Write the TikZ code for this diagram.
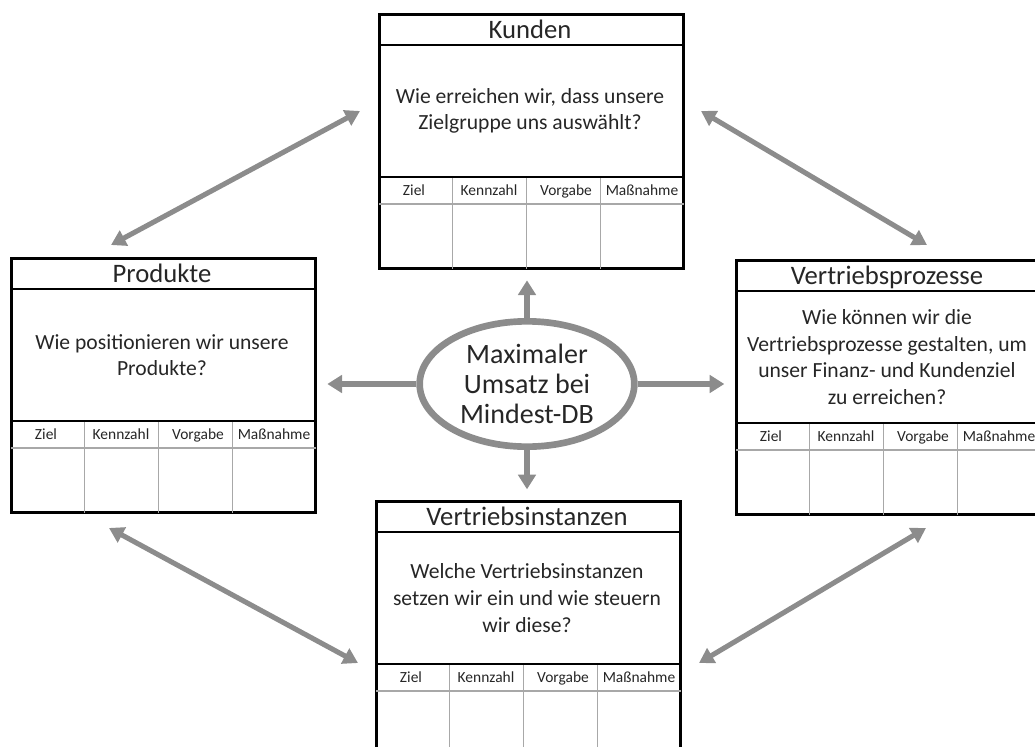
\documentclass[tikz,border=0pt]{standalone}
\usepackage{fontspec}
\setmainfont{Carlito}
\usetikzlibrary{arrows.meta,shapes.geometric,calc}
\definecolor{arrowgray}{HTML}{8C8C8C}
\definecolor{cellgray}{HTML}{A8A8A8}
\definecolor{textgray}{HTML}{262626}
\tikzset{
  frame/.style={draw=black,line width=2pt,anchor=north west,inner sep=0pt,
    minimum width=228pt,minimum height=190.5pt},
  bar/.style={draw=black,line width=2pt},
  cell/.style={draw=cellgray,line width=.8pt},
  titletext/.style={text=textgray,anchor=base,inner sep=0pt,font=\fontsize{20}{24}\selectfont},
  question/.style={text=textgray,align=center,font=\fontsize{16.2}{20}\selectfont},
  head/.style={text=textgray,anchor=base,inner sep=0pt,font=\fontsize{11.6}{14}\selectfont},
  arr/.style={draw=arrowgray,line width=4pt,-{Triangle[length=11pt,width=13pt]},shorten >=8pt},
  darr/.style={draw=arrowgray,line width=3.8pt,{Triangle[length=11pt,width=12.5pt]}-{Triangle[length=11pt,width=12.5pt]}}
}
\begin{document}
\begin{tikzpicture}[x=0.75pt,y=-0.75pt]
\path[use as bounding box,clip] (0,0) rectangle (1035,746);

\foreach \n/\x/\y/\ti/\q in {
  kunden/378/13/Kunden/{Wie erreichen wir, dass unsere\\Zielgruppe uns auswählt?},
  produkte/10/257/Produkte/{Wie positionieren wir unsere\\Produkte?},
  vproz/735/259/Vertriebsprozesse/{Wie können wir die\\Vertriebsprozesse gestalten, um\\unser Finanz- und Kundenziel\\zu erreichen?},
  vinst/375/500/Vertriebsinstanzen/{Welche Vertriebsinstanzen\\setzen wir ein und wie steuern\\wir diese?}}
{
  \node[name=\n,frame] at (\x,\y) {};
  \node[name=\n-t,titletext] at ($(\n.north west)+(152,25.5)$) {\ti};
  \draw[bar] ($(\n.north west)+(0,32)$) -- ($(\n.north east)+(0,32)$);
  \node[name=\n-q,question] at ($(\n.north west)+(152,98)$) {\q};
  \draw[bar] ($(\n.north west)+(0,164)$) -- ($(\n.north east)+(0,164)$);
  \draw[cell] ($(\n.north west)+(1,191)$) -- ($(\n.north east)+(-1,191)$);
  \foreach \c in {74.5,148.5,222.5}
    \draw[cell] ($(\n.north west)+(\c,165)$) -- ($(\n.south west)+(\c,-1)$);
  \foreach \h/\hx [count=\i] in {Ziel/36,Kennzahl/111,Vorgabe/188,Maßnahme/264}
    \node[name=\n-h\i,head] at ($(\n.north west)+(\hx,182)$) {\h};
}

\node[name=mitte,ellipse,draw=arrowgray,line width=5pt,inner sep=0pt,
  minimum width=161pt,minimum height=94pt,align=center,text=textgray,
  font=\fontsize{21}{22.5}\selectfont] at (527,384) {Maximaler\\Umsatz bei\\Mindest-DB};

\draw[arr] (mitte.north) -- (mitte.north |- kunden.south);
\draw[arr] (mitte.south) -- (mitte.south |- vinst.north);
\draw[arr] (mitte.west) -- (mitte.west -| produkte.east);
\draw[arr] (mitte.east) -- (mitte.east -| vproz.west);

\coordinate (pk-p) at (111,245);
\coordinate (pk-k) at (360,111);
\coordinate (kv-k) at (701,111);
\coordinate (kv-v) at (927,245);
\coordinate (pi-p) at (109,528);
\coordinate (pi-i) at (358,663);
\coordinate (vi-v) at (926,528);
\coordinate (vi-i) at (699,663);

\draw[darr] (pk-p) -- (pk-k);
\draw[darr] (kv-k) -- (kv-v);
\draw[darr] (pi-p) -- (pi-i);
\draw[darr] (vi-v) -- (vi-i);
\end{tikzpicture}
\end{document}
